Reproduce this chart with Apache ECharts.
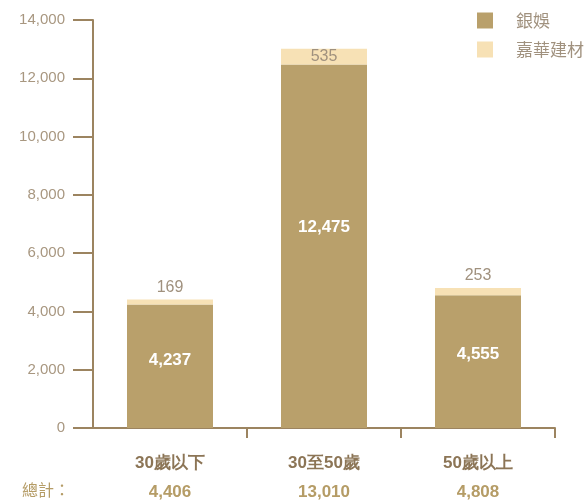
<!DOCTYPE html>
<html><head><meta charset="utf-8">
<script src="https://cdn.jsdelivr.net/npm/echarts@6/dist/echarts.min.js"></script>
<style>html,body{margin:0;padding:0;background:#fff}#c{width:587px;height:501px}</style>
</head><body><div id="c"></div>
<script>
const categories = ['30歲以下', '30至50歲', '50歲以上'];
const yinyu = [4237, 12475, 4555];
const jiahua = [169, 535, 253];
const seriesNames = ['銀娛', '嘉華建材'];
const totalLabel = '總計：';

const totals = categories.map((c, i) => yinyu[i] + jiahua[i]);
const fmt = v => v.toLocaleString('en-US');
const chart = echarts.init(document.getElementById('c'));
const font = '"Liberation Sans", Arial, Helvetica, sans-serif';
chart.setOption({
  animation: false,
  textStyle: { fontFamily: font },
  grid: { left: 93, right: 32, top: 20, bottom: 73, containLabel: false },
  legend: {
    orient: 'vertical', left: 472, top: 7, itemWidth: 16, itemHeight: 16, itemGap: 12,
    icon: 'rect',
    textStyle: { color: '#a0917e', fontSize: 17, padding: [0, 0, 0, 18], fontFamily: '"Noto Sans CJK TC", sans-serif' },
    data: seriesNames
  },
  graphic: [{
    type: 'text', left: 22, top: 482,
    style: { text: totalLabel, fill: '#b59c66', font: '16px "Noto Sans CJK TC", sans-serif' }
  }],
  xAxis: {
    type: 'category', data: categories,
    axisLine: { lineStyle: { color: '#9c8460', width: 2 } },
    axisTick: { show: true, length: 10, interval: i => i > 0, lineStyle: { color: '#9c8460', width: 2 } },
    axisLabel: {
      margin: 20,
      formatter: (v, i) => '{a|' + v + '}\n{b|' + fmt(totals[i]) + '}',
      rich: {
        a: { color: '#8c7556', fontSize: 17, fontWeight: 'bold', lineHeight: 30, fontFamily: font },
        b: { color: '#b59c66', fontSize: 17, fontWeight: 'bold', lineHeight: 28, fontFamily: font }
      }
    }
  },
  yAxis: {
    type: 'value', min: 0, max: 14000, interval: 2000,
    axisLine: { show: true, lineStyle: { color: '#9c8460', width: 2 } },
    axisTick: { show: true, length: 20, lineStyle: { color: '#9c8460', width: 2 } },
    splitLine: { show: false },
    axisLabel: { margin: 28, color: '#a89780', fontSize: 15, formatter: v => fmt(v) }
  },
  series: [
    {
      name: seriesNames[0], type: 'bar', stack: 's', barWidth: 86,
      itemStyle: { color: '#b9a06b' },
      data: yinyu.map(v => ({ value: v, label: { offset: [0, -v * 0.0015] } })),
      label: { show: true, position: 'inside', color: '#fff', fontWeight: 'bold', fontSize: 17, formatter: p => fmt(p.value) }
    },
    {
      name: seriesNames[1], type: 'bar', stack: 's', barWidth: 86,
      itemStyle: { color: '#f7e1b5' },
      data: jiahua.map(v => ({ value: v, label: { position: v > 400 ? 'inside' : 'top' } })),
      label: { show: true, color: '#a0917e', fontSize: 16, distance: 4, formatter: p => fmt(p.value) }
    }
  ]
});
</script></body></html>
